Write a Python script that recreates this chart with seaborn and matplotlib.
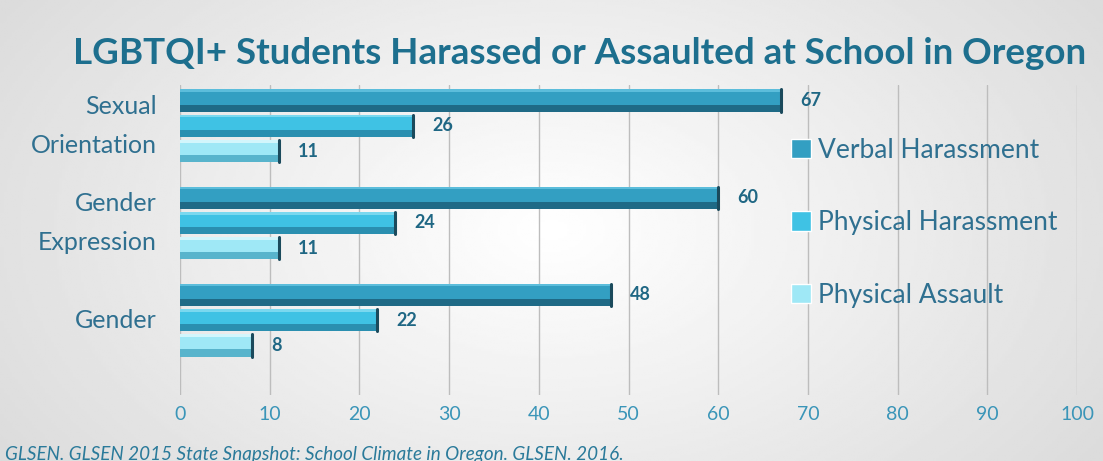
import numpy as np
import pandas as pd
import matplotlib
matplotlib.use("Agg")
import matplotlib.pyplot as plt
import seaborn as sns
from matplotlib.patches import Rectangle

categories = ["Sexual\nOrientation", "Gender\nExpression", "Gender"]
series = ["Verbal Harassment", "Physical Harassment", "Physical Assault"]
verbal = [67, 60, 48]
physical = [26, 24, 22]
assault = [11, 11, 8]
ticks = [0, 10, 20, 30, 40, 50, 60, 70, 80, 90, 100]
title = "LGBTQI+ Students Harassed or Assaulted at School in Oregon"
source = "GLSEN. GLSEN 2015 State Snapshot: School Climate in Oregon. GLSEN. 2016."

df = pd.DataFrame({
    "category": categories * 3,
    "type": [s for s in series for _ in categories],
    "value": verbal + physical + assault,
})

sns.set_theme(style="white")
plt.rcParams["font.family"] = ["Lato", "DejaVu Sans"]

colors = ["#339fc2", "#3fc2e4", "#9fe8f6"]
dark = ["#1f6a86", "#2a8fb0", "#58b4cc"]
light = ["#5cbddb", "#7ad8ef", "#d2f6fc"]

fig = plt.figure(figsize=(11.03, 4.61), dpi=100)
# background gradient
bg = fig.add_axes([0, 0, 1, 1], zorder=-10)
xx = np.linspace(-1, 1, 400)
yy = np.linspace(-1, 1, 200)
X, Y = np.meshgrid(xx, yy)
R = np.sqrt((X * 0.9) ** 2 + (Y * 0.6) ** 2)
img = 1.0 - 0.13 * np.clip(R, 0, 1.3)
bg.imshow(img, cmap="gray", vmin=0, vmax=1, aspect="auto", extent=[0, 1, 0, 1])
bg.axis("off")

ax = fig.add_axes([180 / 1103, 1 - 395 / 461, (1077 - 180) / 1103, (395 - 85) / 461])
ax.patch.set_alpha(0)

sns.barplot(data=df, y="category", x="value", hue="type", orient="h",
            palette=colors, saturation=1, width=0.78, gap=0.12, ax=ax, legend=True)

# bevel effect and labels
for i, cont in enumerate(ax.containers):
    for p in cont.patches:
        p.set_edgecolor("none")
        x0, y0 = p.get_x(), p.get_y()
        w, h = p.get_width(), p.get_height()
        # y axis inverted: y0 is the top edge visually
        ax.add_patch(Rectangle((x0, y0 + h * 0.68), w, h * 0.32,
                               facecolor=dark[i], lw=0, zorder=3))
        ax.add_patch(Rectangle((x0, y0), w, h * 0.12,
                               facecolor=light[i], lw=0, zorder=3))
        ax.plot([x0 + w, x0 + w], [y0, y0 + h], color="#1b4a5c", lw=2.2, zorder=4)
    ax.bar_label(cont, padding=14, fontsize=13, fontweight="bold",
                 color="#1f6784", family=["Lato", "DejaVu Sans"])

ax.set_xlim(0, 100)
ax.set_ylim(2.77, -0.42)
ax.set_xticks(ticks)
ax.set_xticklabels([str(t) for t in ticks])
ax.xaxis.grid(True, color="#bdbdbd", lw=1)
ax.set_axisbelow(True)
for s in ax.spines.values():
    s.set_visible(False)
ax.tick_params(axis="x", colors="#3a95b8", labelsize=14, pad=8, length=0)
ax.tick_params(axis="y", colors="#2f7090", labelsize=18, pad=17, length=0)
for lab in ax.get_yticklabels():
    lab.set_horizontalalignment("right")
    lab.set_verticalalignment("center")
    lab.set_linespacing(1.85)
ax.set_xlabel("")
ax.set_ylabel("")

leg = ax.legend(loc="upper left", bbox_to_anchor=(0.655, 0.907), frameon=False,
                fontsize=19, labelspacing=1.8, handlelength=0.75, handleheight=0.75,
                handletextpad=0.25, labelcolor="#2f7090")

fig.text(0.5 * (75 + 1085) / 1103, 1 - 54 / 461, title, ha="center", va="center",
         fontsize=26.5, fontweight="bold", color="#1d6f8e")
fig.text(5 / 1103, 1 - 454 / 461, source, ha="left", va="center", fontsize=13.6,
         style="italic", color="#2a7a9a")

fig.savefig("out.png", dpi=100)
